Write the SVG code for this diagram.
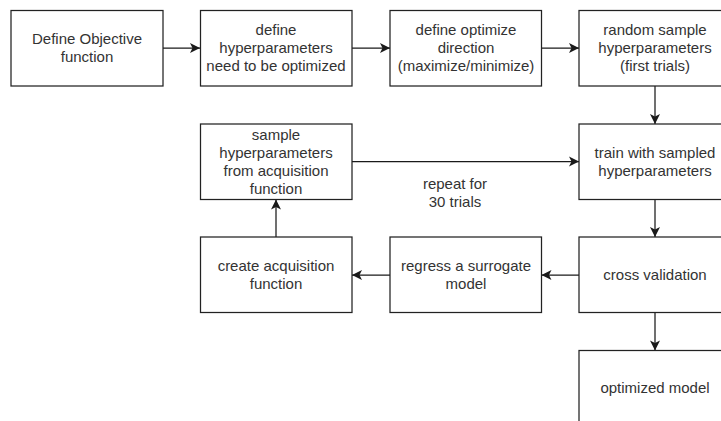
<svg xmlns="http://www.w3.org/2000/svg" width="721" height="421" viewBox="0 0 721 421">
  <defs>
    <marker id="arrow" viewBox="-11 -6 12 12" refX="0" refY="0" markerWidth="12" markerHeight="12" markerUnits="userSpaceOnUse" orient="auto">
      <path d="M0,0 L-10,-5 L-7.5,0 L-10,5 Z" fill="#1a1a1a"/>
    </marker>
    <style>
      .box { fill: #ffffff; stroke: #222222; stroke-width: 1.25; }
      .lbl { font-family: "Liberation Sans", Arial, Helvetica, sans-serif; font-size: 15px; fill: #333333; text-anchor: middle; }
      .edge { fill: none; stroke: #1a1a1a; stroke-width: 1.25; marker-end: url(#arrow); }
    </style>
  </defs>
  <rect width="721" height="421" fill="#ffffff"/>

  <!-- connectors -->
  <g id="connectors">
    <path class="edge" d="M163,48 L200,48"/>
    <path class="edge" d="M352,48 L390,48"/>
    <path class="edge" d="M541.5,48 L579,48"/>
    <path class="edge" d="M655,86 L655,124"/>
    <path class="edge" d="M655,199.5 L655,237"/>
    <path class="edge" d="M579,275 L541.5,275"/>
    <path class="edge" d="M390,275 L352,275"/>
    <path class="edge" d="M276,237 L276,199.5"/>
    <path class="edge" d="M352,161.5 L579,161.5"/>
    <path class="edge" d="M655,313 L655,350.5"/>
  </g>

  <!-- top row -->
  <g id="define-objective">
    <rect class="box" x="11" y="10.5" width="152" height="75.5"/>
    <text class="lbl" x="87" y="44">Define Objective</text>
    <text class="lbl" x="87" y="62">function</text>
  </g>
  <g id="define-hyperparameters">
    <rect class="box" x="200.5" y="10.5" width="151.5" height="75.5"/>
    <text class="lbl" x="276" y="35">define</text>
    <text class="lbl" x="276" y="53">hyperparameters</text>
    <text class="lbl" x="276" y="71">need to be optimized</text>
  </g>
  <g id="define-direction">
    <rect class="box" x="390" y="10.5" width="151.5" height="75.5"/>
    <text class="lbl" x="466" y="35">define optimize</text>
    <text class="lbl" x="466" y="53">direction</text>
    <text class="lbl" x="466" y="71">(maximize/minimize)</text>
  </g>
  <g id="random-sample">
    <rect class="box" x="579" y="10.5" width="152" height="75.5"/>
    <text class="lbl" x="655" y="35">random sample</text>
    <text class="lbl" x="655" y="53">hyperparameters</text>
    <text class="lbl" x="655" y="71">(first trials)</text>
  </g>

  <!-- loop row -->
  <g id="sample-acquisition">
    <rect class="box" x="200.5" y="124" width="151.5" height="75.5"/>
    <text class="lbl" x="276" y="139.5">sample</text>
    <text class="lbl" x="276" y="157.5">hyperparameters</text>
    <text class="lbl" x="276" y="175.5">from acquisition</text>
    <text class="lbl" x="276" y="193.5">function</text>
  </g>
  <g id="train">
    <rect class="box" x="579" y="124" width="152" height="75.5"/>
    <text class="lbl" x="655" y="157.5">train with sampled</text>
    <text class="lbl" x="655" y="175.5">hyperparameters</text>
  </g>
  <g id="repeat-label">
    <text class="lbl" x="455" y="189">repeat for</text>
    <text class="lbl" x="455" y="207">30 trials</text>
  </g>

  <!-- bottom row -->
  <g id="create-acquisition">
    <rect class="box" x="200.5" y="237" width="151.5" height="75.5"/>
    <text class="lbl" x="276" y="271">create acquisition</text>
    <text class="lbl" x="276" y="289">function</text>
  </g>
  <g id="regress-surrogate">
    <rect class="box" x="390" y="237" width="151.5" height="75.5"/>
    <text class="lbl" x="466" y="271">regress a surrogate</text>
    <text class="lbl" x="466" y="289">model</text>
  </g>
  <g id="cross-validation">
    <rect class="box" x="579" y="237" width="152" height="75.5"/>
    <text class="lbl" x="655" y="280">cross validation</text>
  </g>
  <g id="optimized-model">
    <rect class="box" x="579" y="350.5" width="152" height="75.5"/>
    <text class="lbl" x="655" y="393">optimized model</text>
  </g>
</svg>
